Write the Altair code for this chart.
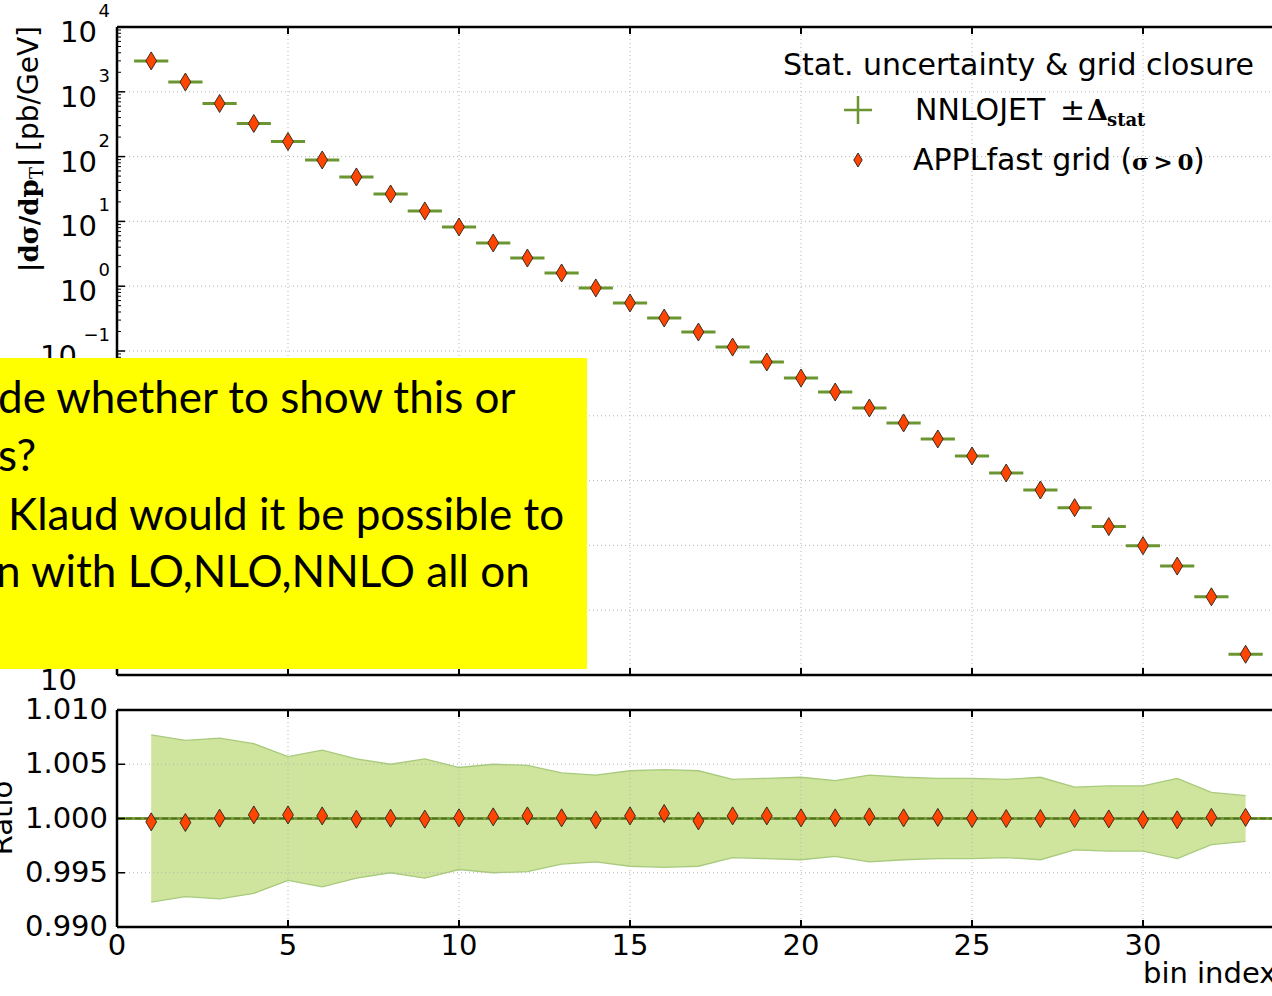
import altair as alt
import pandas as pd

# ---------------------------------------------------------------- data
bins = list(range(1, 34))
xsec = [3000, 1415, 660, 324, 171, 88.7, 48.5, 26.5, 14.5, 8.2, 4.65, 2.72,
        1.60, 0.94, 0.551, 0.323, 0.196, 0.115, 0.0677, 0.0383, 0.0233,
        0.0132, 0.00776, 0.00439, 0.0024, 0.00131, 7.16e-4, 3.82e-4,
        1.95e-4, 9.9e-5, 4.8e-5, 1.61e-5, 2.09e-6]
rel_stat = [0.0077, 0.0072, 0.0074, 0.0069, 0.0057, 0.0063, 0.0055, 0.0050,
            0.0055, 0.0047, 0.0050, 0.0049, 0.0042, 0.0040, 0.0044, 0.0045,
            0.0044, 0.0036, 0.0037, 0.0038, 0.0035, 0.0040, 0.0038, 0.0037,
            0.0037, 0.0036, 0.0038, 0.0029, 0.0030, 0.0030, 0.0037, 0.0024,
            0.0021]
ratio = [0.99969, 0.99963, 1.00003, 1.00033, 1.00033, 1.00024, 0.99994,
         1.00003, 0.99994, 1.00006, 1.00015, 1.00024, 1.00006, 0.99987,
         1.00024, 1.00046, 0.99978, 1.00024, 1.00024, 1.00006, 1.00006,
         1.00015, 1.00006, 1.00010, 1.00000, 1.00000, 1.00000, 1.00000,
         0.99996, 0.99988, 0.99988, 1.00010, 1.00010]

x_ticks = [0, 5, 10, 15, 20, 25, 30]
x_tick_labels = ["0", "5", "10", "15", "20", "25", "30"]
y_exps = [-6, -5, -4, -3, -2, -1, 0, 1, 2, 3, 4]
minor_mult = [2, 3, 4, 5, 6, 7, 8, 9]
ratio_ticks = [0.990, 0.995, 1.000, 1.005, 1.010]
ratio_tick_labels = ["0.990", "0.995", "1.000", "1.005", "1.010"]

note_lines = ["de whether to show this or", "s?",
              "Klaud would it be possible to", "n with LO,NLO,NNLO all on"]

# ---------------------------------------------------------------- layout
W, H = 1155, 900          # plot area (both panels)
TOP_H = 648               # main panel bottom
R0, R1 = 683, 900         # ratio panel top / bottom
XMAX = W / 34.2

SANS = "DejaVu Sans"
SERIF = "DejaVu Serif"
GREEN = "#6b9530"
RED = "#ff4500"
EDGE = "#3d2b1f"
GRID = "#b5b5b5"
DIAMOND = "M0,-1L0.6,0L0,1L-0.6,0Z"
CROSS = "M-1,0L1,0M0,-1L0,1"
TICK_FS = 29
LEG_FS = 30

xs = alt.Scale(domain=[0, XMAX], nice=False, zero=False)
ys_log = alt.Scale(type="log", domain=[1e-6, 1e4], range=[TOP_H, 0], nice=False)
ys_rat = alt.Scale(domain=[0.99, 1.01], range=[R1, R0], nice=False, zero=False)

main = pd.DataFrame({"bin": bins, "xsec": xsec, "rel": rel_stat, "ratio": ratio})
main["lo"] = main["bin"] - 0.5
main["hi"] = main["bin"] + 0.5
main["up"] = 1 + main["rel"]
main["dn"] = 1 - main["rel"]
main["ylo"] = main["xsec"] * (1 - main["rel"])
main["yhi"] = main["xsec"] * (1 + main["rel"])

xt = pd.DataFrame({"t": x_ticks, "lab": x_tick_labels})
xt_inner = xt[xt["t"] > 0]
dec = pd.DataFrame({"e": y_exps})
dec["v"] = [10.0 ** e for e in y_exps]
dec["base"] = "10"
dec["sup"] = [("\u2212" + str(-e)) if e < 0 else str(e) for e in y_exps]
minor = pd.DataFrame({"v": [m * 10.0 ** e for e in y_exps[:-1] for m in minor_mult]})
rt = pd.DataFrame({"v": ratio_ticks, "lab": ratio_tick_labels})
one = pd.DataFrame({"k": [0]})


def X(f):
    return alt.X(f, scale=xs, axis=None)


def YL(f):
    return alt.Y(f, scale=ys_log, axis=None)


def YR(f):
    return alt.Y(f, scale=ys_rat, axis=None)


def text(s, x, y, size=LEG_FS, font=SANS, align="left", baseline="alphabetic",
         angle=0, weight="normal", color="black"):
    return alt.Chart(pd.DataFrame({"t": [s]})).mark_text(
        align=align, baseline=baseline, font=font, fontSize=size,
        angle=angle, fontWeight=weight, color=color
    ).encode(x=alt.value(x), y=alt.value(y), text="t:N")


def hline(x, x2, y, width=2.5, color="black"):
    return alt.Chart(one).mark_rule(color=color, strokeWidth=width).encode(
        x=alt.value(x), x2=alt.value(x2), y=alt.value(y))


def vline(x, y, y2, width=2.5, color="black"):
    return alt.Chart(one).mark_rule(color=color, strokeWidth=width).encode(
        x=alt.value(x), y=alt.value(y), y2=alt.value(y2))


grid_kw = dict(color=GRID, strokeWidth=1, strokeDash=[1, 3])
layers = []

# ---- ratio band (NNLOJET +- stat) drawn under the grid
layers.append(alt.Chart(main).mark_area(color="#cfe49d", opacity=1).encode(
    x=X("bin:Q"), y=YR("dn:Q"), y2="up:Q"))
for col in ["up", "dn"]:
    layers.append(alt.Chart(main).mark_line(color="#a8ca7c", strokeWidth=1.3).encode(
        x=X("bin:Q"), y=YR(f"{col}:Q")))

# ---- grids
layers.append(alt.Chart(dec[(dec.e > -6) & (dec.e < 4)]).mark_rule(**grid_kw).encode(
    y=YL("v:Q"), x=alt.value(0), x2=alt.value(W)))
layers.append(alt.Chart(xt_inner).mark_rule(**grid_kw).encode(
    x=X("t:Q"), y=alt.value(0), y2=alt.value(TOP_H)))
layers.append(alt.Chart(rt[(rt.v > 0.991) & (rt.v < 1.009)]).mark_rule(**grid_kw).encode(
    y=YR("v:Q"), x=alt.value(0), x2=alt.value(W)))
layers.append(alt.Chart(xt_inner).mark_rule(**grid_kw).encode(
    x=X("t:Q"), y=alt.value(R0), y2=alt.value(R1)))

# ---- reference line at ratio 1
layers.append(alt.Chart(pd.DataFrame({"v": [1.0]})).mark_rule(
    color="#7a9f3a", strokeWidth=3.2).encode(y=YR("v:Q"), x=alt.value(0), x2=alt.value(W)))
layers.append(alt.Chart(pd.DataFrame({"v": [1.0]})).mark_rule(
    color="#4e6a22", strokeWidth=1.6, strokeDash=[6, 3]).encode(
    y=YR("v:Q"), x=alt.value(0), x2=alt.value(W)))

# ---- NNLOJET error bars
layers.append(alt.Chart(main).mark_rule(color=GREEN, strokeWidth=3).encode(
    x=X("lo:Q"), x2="hi:Q", y=YL("xsec:Q")))
layers.append(alt.Chart(main).mark_rule(color=GREEN, strokeWidth=3).encode(
    x=X("bin:Q"), y=YL("ylo:Q"), y2="yhi:Q"))

# ---- APPLfast diamonds
pt_kw = dict(shape=DIAMOND, filled=True, fill=RED, stroke=EDGE, strokeWidth=1,
             size=324, opacity=1)
layers.append(alt.Chart(main).mark_point(**pt_kw).encode(x=X("bin:Q"), y=YL("xsec:Q")))
layers.append(alt.Chart(main).mark_point(**pt_kw).encode(x=X("bin:Q"), y=YR("ratio:Q")))

# ---- frames
for top, bot in [(0, TOP_H), (R0, R1)]:
    layers.append(hline(0, W, top))
    layers.append(hline(0, W, bot))
    layers.append(vline(0, top, bot))
    # inward x ticks
    layers.append(alt.Chart(xt_inner).mark_rule(color="black", strokeWidth=2).encode(
        x=X("t:Q"), y=alt.value(top), y2=alt.value(top + 7)))
    layers.append(alt.Chart(xt_inner).mark_rule(color="black", strokeWidth=2).encode(
        x=X("t:Q"), y=alt.value(bot - 7), y2=alt.value(bot)))

# inward y ticks
layers.append(alt.Chart(dec).mark_rule(color="black", strokeWidth=1.5).encode(
    y=YL("v:Q"), x=alt.value(0), x2=alt.value(8)))
layers.append(alt.Chart(minor).mark_rule(color="black", strokeWidth=1).encode(
    y=YL("v:Q"), x=alt.value(0), x2=alt.value(4)))
layers.append(alt.Chart(rt).mark_rule(color="black", strokeWidth=1.5).encode(
    y=YR("v:Q"), x=alt.value(0), x2=alt.value(8)))

# ---- tick labels
lab_kw = dict(font=SANS, fontSize=TICK_FS, color="black")
layers.append(alt.Chart(dec).transform_filter("datum.e >= 0").mark_text(
    align="right", baseline="middle", dy=6, **lab_kw).encode(
    y=YL("v:Q"), x=alt.value(-20), text="base:N"))
layers.append(alt.Chart(dec).transform_filter("datum.e < 0").mark_text(
    align="right", baseline="middle", dy=6, **lab_kw).encode(
    y=YL("v:Q"), x=alt.value(-40), text="base:N"))
layers.append(alt.Chart(dec).mark_text(
    align="right", baseline="middle", dy=-15, font=SANS, fontSize=18, color="black").encode(
    y=YL("v:Q"), x=alt.value(-7), text="sup:N"))
layers.append(alt.Chart(rt).mark_text(align="right", baseline="middle", **lab_kw).encode(
    y=YR("v:Q"), x=alt.value(-9), text="lab:N"))
layers.append(alt.Chart(xt).mark_text(align="center", baseline="middle", **lab_kw).encode(
    x=X("t:Q"), y=alt.value(919), text="lab:N"))

# ---- axis titles
layers.append(text("[pb/GeV]", -79, -1, size=28, align="right", angle=270))
layers.append(text("|d\u03c3/dp", -79, 245, size=26, font=SERIF, weight="bold", angle=270))
layers.append(text("T", -74, 152, size=18, font=SERIF, angle=270))
layers.append(text("|", -79, 140, size=26, font=SERIF, weight="bold", angle=270))
layers.append(text("Ratio", -105, 791, size=TICK_FS, align="center", angle=270))
layers.append(text("bin index", 1026, 956, size=TICK_FS))

# ---- legend
layers.append(text("Stat. uncertainty & grid closure", 666, 48))
layers.append(alt.Chart(one).mark_point(shape=CROSS, filled=False, stroke=GREEN,
                                        strokeWidth=2.5, size=784, opacity=1).encode(
    x=alt.value(741), y=alt.value(83)))
layers.append(text("NNLOJET", 798, 93))
layers.append(text("\u00b1", 943, 93))
layers.append(text("\u0394", 970, 93, size=27, font=SERIF, weight="bold"))
layers.append(text("stat", 990, 99, size=18, font=SERIF, weight="bold"))
layers.append(alt.Chart(one).mark_point(shape=DIAMOND, filled=True, fill=RED, stroke=EDGE,
                                        strokeWidth=1, size=196, opacity=1).encode(
    x=alt.value(741), y=alt.value(133)))
layers.append(text("APPLfast grid (", 796, 143))
layers.append(text("\u03c3\u2009>\u20090", 1015, 143, size=23, font=SERIF, weight="bold"))
layers.append(text(")", 1076, 143))

# ---- note box
layers.append(alt.Chart(one).mark_rect(color="#ffff00", opacity=1).encode(
    x=alt.value(-117), x2=alt.value(470), y=alt.value(331), y2=alt.value(642)))
for s, x, y in zip(note_lines, [-119, -119, -109, -121], [386, 444, 503, 560]):
    layers.append(text(s, x, y, size=44, font="Lato"))

chart = alt.layer(*layers).resolve_scale(y="independent").properties(
    width=W, height=H,
    autosize=alt.AutoSizeParams(type="none"),
    padding={"left": 117, "top": 27, "right": 0, "bottom": 63},
).configure_view(stroke=None)

chart.save("out.html", embed_options={"renderer": "svg", "actions": False})
